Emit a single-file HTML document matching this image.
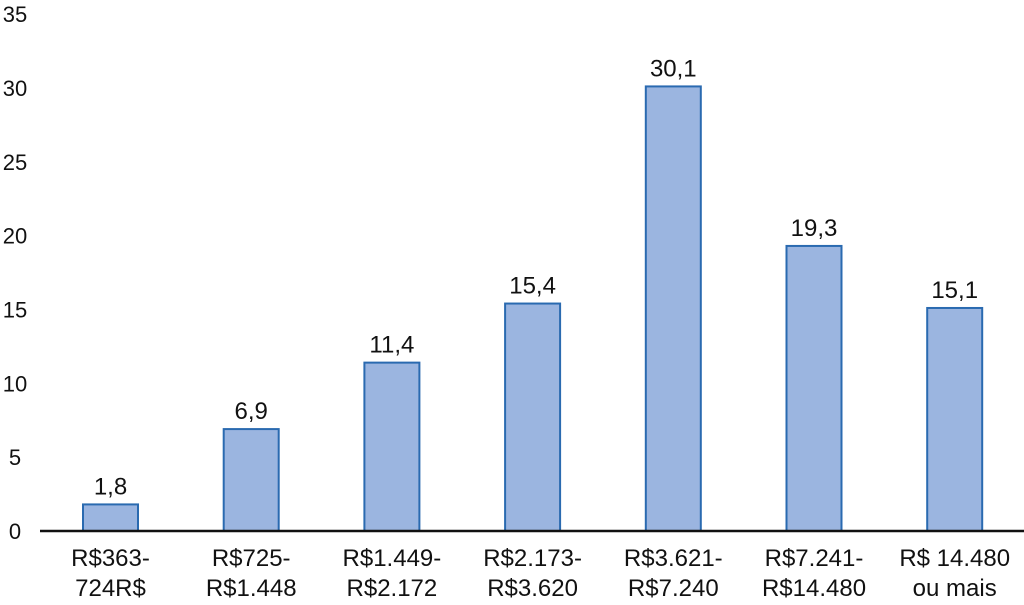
<!DOCTYPE html>
<html><head><meta charset="utf-8">
<style>
html,body{margin:0;padding:0;background:#fff;}
svg{display:block;font-family:"Liberation Sans",Arial,sans-serif;}
</style></head>
<body>
<svg id="chart" width="1024" height="605" viewBox="0 0 1024 605"></svg>
<script>
const categories = [["R$363-","724R$"],["R$725-","R$1.448"],["R$1.449-","R$2.172"],["R$2.173-","R$3.620"],["R$3.621-","R$7.240"],["R$7.241-","R$14.480"],["R$ 14.480","ou mais"]];
const values = [1.8, 6.9, 11.4, 15.4, 30.1, 19.3, 15.1];
const valueLabels = ["1,8","6,9","11,4","15,4","30,1","19,3","15,1"];
const yTicks = [0,5,10,15,20,25,30,35];

const svg = document.getElementById('chart');
const NS = "http://www.w3.org/2000/svg";
const y0 = 531, pxPerUnit = 14.77;
function y(v){ return y0 - v*pxPerUnit; }
const xStart = 110.5, step = 140.7, barW = 55;
function x(i){ return xStart + i*step; }
function mk(tag, attrs, text){
  const e = document.createElementNS(NS, tag);
  for (const k in attrs) e.setAttribute(k, attrs[k]);
  if (text !== undefined) e.textContent = text;
  svg.appendChild(e);
  return e;
}

yTicks.forEach(t => {
  const e = mk('text', {x: 15, y: y(t)+8, 'text-anchor':'middle', 'font-size':22, fill:'#111'}, String(t));
  
  
});

values.forEach((v, i) => {
  const r = mk('rect', {x: x(i)-barW/2, y: y(v), width: barW, height: y0 - y(v), fill:'#9bb5e0', stroke:'#2a6ab0', 'stroke-width':2});
  
  
  const l = mk('text', {x: x(i), y: y(v)-10, 'text-anchor':'middle', 'font-size':24, fill:'#111'}, valueLabels[i]);
  
  
  categories[i].forEach((line, j) => {
    const c = mk('text', {x: x(i), y: 566 + j*30, 'text-anchor':'middle', 'font-size':24, fill:'#111'}, line);
    
    
  });
});

const axis = mk('line', {x1: 40, x2: 1024, y1: y0, y2: y0, stroke:'#111', 'stroke-width':2.5});


</script>
</body></html>
